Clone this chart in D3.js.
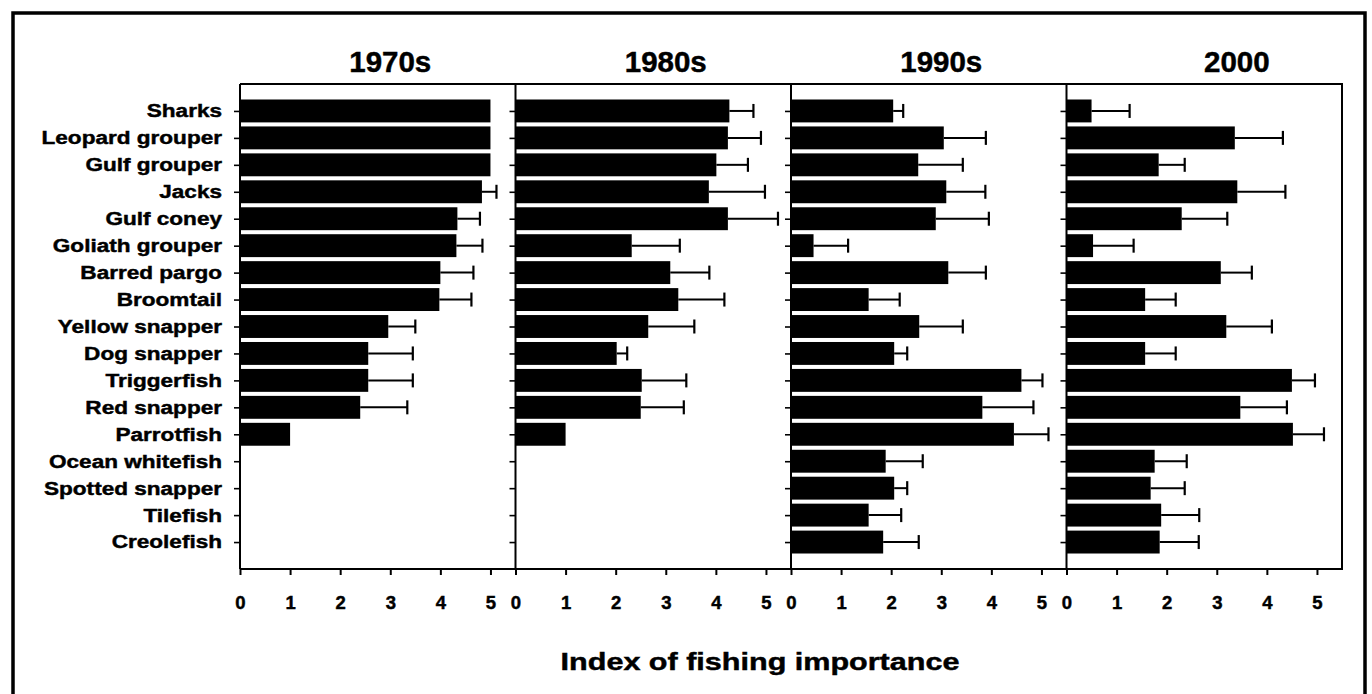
<!DOCTYPE html>
<html>
<head>
<meta charset="utf-8">
<script src="https://cdn.jsdelivr.net/npm/d3@7"></script>
<style>
  html, body { margin: 0; padding: 0; background: #fff; }
  svg { display: block; }
  text { font-family: "Liberation Sans", Arial, Helvetica, sans-serif; font-weight: bold; fill: #000; stroke: #000; stroke-width: 0.45px; }
</style>
</head>
<body>
<svg id="chart" width="1372" height="694"></svg>
<script>
// Species, top to bottom
const categories = [
  "Sharks", "Leopard grouper", "Gulf grouper", "Jacks", "Gulf coney",
  "Goliath grouper", "Barred pargo", "Broomtail", "Yellow snapper",
  "Dog snapper ", "Triggerfish", "Red snapper", "Parrotfish",
  "Ocean whitefish", "Spotted snapper", "Tilefish", "Creolefish"
];

// Decade panels
const decades = ["1970s", "1980s", "1990s", "2000"];

// Mean index of fishing importance per species (null = not reported)
const mean1970s = [5.0, 5.0, 5.0, 4.83, 4.34, 4.32, 4.00, 3.98, 2.96, 2.56, 2.56, 2.40, 1.0, null, null, null, null];
const mean1980s = [4.27, 4.24, 4.01, 3.86, 4.24, 2.32, 3.09, 3.25, 2.65, 2.02, 2.52, 2.50, 1.0, null, null, null, null];
const mean1990s = [2.04, 3.05, 2.54, 3.10, 2.89, 0.45, 3.14, 1.55, 2.56, 2.06, 4.60, 3.82, 4.45, 1.89, 2.06, 1.55, 1.84];
const mean2000  = [0.50, 3.36, 1.84, 3.41, 2.30, 0.53, 3.08, 1.57, 3.19, 1.57, 4.50, 3.47, 4.52, 1.76, 1.68, 1.89, 1.86];

// Standard error (upper whisker length)
const se1970s = [0, 0, 0, 0.29, 0.45, 0.52, 0.66, 0.64, 0.54, 0.89, 0.89, 0.94, 0, null, null, null, null];
const se1980s = [0.48, 0.66, 0.63, 1.12, 1.00, 0.96, 0.78, 0.92, 0.92, 0.21, 0.89, 0.86, 0, null, null, null, null];
const se1990s = [0.20, 0.84, 0.89, 0.78, 1.06, 0.69, 0.75, 0.62, 0.87, 0.26, 0.42, 1.02, 0.69, 0.74, 0.26, 0.65, 0.71];
const se2000  = [0.76, 0.96, 0.52, 0.96, 0.91, 0.81, 0.62, 0.61, 0.91, 0.61, 0.46, 0.93, 0.62, 0.64, 0.68, 0.76, 0.78];

// Axis tick labels
const xTicks = [0, 1, 2, 3, 4, 5];
const xTitle = "Index of fishing importance";

const means = [mean1970s, mean1980s, mean1990s, mean2000];
const errors = [se1970s, se1980s, se1990s, se2000];

// Layout
const plotLeft = 240, plotTop = 84, plotBottom = 569, panelW = 275.5;
const xMax = 5.5;
const titleAt = [3, 3, 3, 3.4];   // panel heading centre, in axis units
const labelStretch = 1.22;        // wide lettering of the species labels
const titleStretch = 1.3;

const svg = d3.select("#chart");

// outer frame
svg.append("rect")
  .attr("x", 13).attr("y", 13)
  .attr("width", 1352).attr("height", 700)
  .attr("fill", "none").attr("stroke", "#000").attr("stroke-width", 3.5);

const y = d3.scalePoint().domain(categories).range([plotTop, plotBottom]).padding(1);
const barH = y.step() * 0.85;

decades.forEach((dec, i) => {
  const x0 = plotLeft + i * panelW;
  const x = d3.scaleLinear().domain([0, xMax]).range([x0, x0 + panelW]);
  const g = svg.append("g");

  const rows = categories.map((c, j) => ({ c, v: means[i][j], e: errors[i][j] }))
    .filter(d => d.v != null);

  // bars
  g.selectAll("rect.bar").data(rows).join("rect")
    .attr("class", "bar")
    .attr("x", x(0))
    .attr("y", d => y(d.c) - barH / 2)
    .attr("width", d => x(d.v) - x(0))
    .attr("height", barH)
    .attr("fill", "#000");

  // error bars
  const eb = rows.filter(d => d.e > 0);
  g.selectAll("line.err").data(eb).join("line")
    .attr("class", "err")
    .attr("x1", d => x(d.v)).attr("x2", d => x(d.v + d.e))
    .attr("y1", d => y(d.c)).attr("y2", d => y(d.c))
    .attr("stroke", "#000").attr("stroke-width", 2);
  g.selectAll("line.cap").data(eb).join("line")
    .attr("class", "cap")
    .attr("x1", d => x(d.v + d.e)).attr("x2", d => x(d.v + d.e))
    .attr("y1", d => y(d.c) - 7).attr("y2", d => y(d.c) + 7)
    .attr("stroke", "#000").attr("stroke-width", 2.2);

  // left axis (labels only on the first panel)
  const yAxis = d3.axisLeft(y).tickSize(6).tickPadding(12);
  if (i > 0) yAxis.tickFormat("");
  const ya = g.append("g").attr("transform", `translate(${x0},0)`).call(yAxis);
  ya.select(".domain").remove();
  ya.selectAll(".tick line").attr("stroke-width", 1.6);
  ya.selectAll(".tick text")
    .attr("font-size", 18.5)
    .attr("font-family", null)
    .attr("x", -18 / labelStretch)
    .attr("transform", `scale(${labelStretch},1)`);

  // bottom axis
  const xa = g.append("g").attr("transform", `translate(0,${plotBottom})`)
    .call(d3.axisBottom(x).tickValues(xTicks).tickFormat(d3.format("d")).tickSize(6).tickPadding(21));
  xa.select(".domain").remove();
  xa.selectAll(".tick line").attr("stroke-width", 2);
  xa.selectAll(".tick text").attr("font-size", 18.5).attr("font-family", null);

  // panel heading
  svg.append("text")
    .attr("x", x(titleAt[i])).attr("y", 72)
    .attr("text-anchor", "middle")
    .attr("font-size", 29.5)
    .text(dec);

  // panel left edge
  g.append("line")
    .attr("x1", x0).attr("x2", x0).attr("y1", plotTop).attr("y2", plotBottom)
    .attr("stroke", "#000").attr("stroke-width", 2);
});

// plot frame: top, right, bottom
const plotRight = plotLeft + 4 * panelW;
svg.append("path")
  .attr("d", `M${plotLeft},${plotTop}H${plotRight}V${plotBottom}H${plotLeft}`)
  .attr("fill", "none").attr("stroke", "#000").attr("stroke-width", 2);

// axis title
svg.append("text")
  .attr("transform", `translate(760,670) scale(${titleStretch},1)`)
  .attr("text-anchor", "middle")
  .attr("font-size", 23.5)
  .text(xTitle);
</script>
</body>
</html>
